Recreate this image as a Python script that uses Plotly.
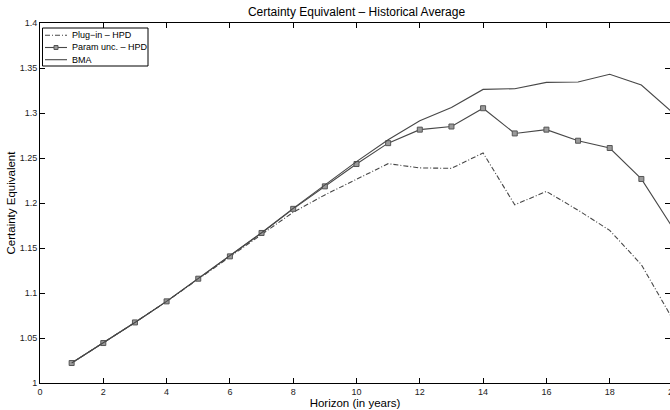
import plotly.graph_objects as go

# Horizon (years) and certainty-equivalent values for the three strategies
horizon = list(range(1, 21))
plug_in_hpd = [1.0222, 1.0444, 1.0673, 1.0907, 1.1155, 1.1400, 1.1645, 1.1897, 1.2090, 1.2259,
               1.2437, 1.2390, 1.2385, 1.2556, 1.1980, 1.2129, 1.1920, 1.1696, 1.1315, 1.0703]
param_unc_hpd = [1.0222, 1.0444, 1.0673, 1.0907, 1.1159, 1.1407, 1.1667, 1.1935, 1.2185, 1.2433,
                 1.2665, 1.2815, 1.2850, 1.3053, 1.2773, 1.2815, 1.2692, 1.2611, 1.2267, 1.1720]
bma = [1.0222, 1.0444, 1.0673, 1.0907, 1.1160, 1.1410, 1.1670, 1.1940, 1.2205, 1.2460,
       1.2703, 1.2914, 1.3060, 1.3262, 1.3270, 1.3340, 1.3344, 1.3430, 1.3310, 1.3000]

series_names = ["Plug\u2212in \u2013 HPD", "Param unc. \u2013 HPD", "BMA"]
x_ticks = list(range(0, 21, 2))
y_ticks = [1.0, 1.05, 1.1, 1.15, 1.2, 1.25, 1.3, 1.35, 1.4]
y_tick_text = ["1", "1.05", "1.1", "1.15", "1.2", "1.25", "1.3", "1.35", "1.4"]

# figure geometry (pixels)
W, H = 670, 410
ML, MR, MT, MB = 40, 0, 23, 27
PW, PH = W - ML - MR, H - MT - MB
X_MAX = 19.905  # visible part of the horizon axis

LINE = "#474747"
DASHDOT = "5px,2px,1px,2px"
MARKER_FILL, MARKER_EDGE = "#9a9a9a", "#555555"
FONT = "Liberation Sans, Arial, Helvetica, sans-serif"


def px_x(p):
    """pixel column -> paper x"""
    return (p - ML) / PW


def px_y(p):
    """pixel row -> paper y"""
    return (H - MB - p) / PH


styles = [
    dict(mode="lines", line=dict(color=LINE, width=1.1, dash=DASHDOT)),
    dict(mode="lines+markers", line=dict(color=LINE, width=1.1),
         marker=dict(symbol="square", size=5, color=MARKER_FILL, line=dict(color=MARKER_EDGE, width=1))),
    dict(mode="lines", line=dict(color=LINE, width=1.1)),
]

fig = go.Figure()
for name, values, style in zip(series_names, [plug_in_hpd, param_unc_hpd, bma], styles):
    fig.add_trace(go.Scatter(x=horizon, y=values, name=name, showlegend=False, **style))

axis_common = dict(
    showgrid=False, zeroline=False, showline=True, linecolor="black", linewidth=1,
    mirror="ticks", ticks="inside", ticklen=5, tickwidth=1, tickcolor="black",
    tickfont=dict(family=FONT, size=9, color="#222222"),
)

fig.update_xaxes(
    range=[0, X_MAX], tickmode="array", tickvals=x_ticks,
    title=dict(text="Horizon (in years)", font=dict(family=FONT, size=11.5, color="black"), standoff=1),
    **axis_common,
)
fig.update_yaxes(
    range=[1.0, 1.4], tickmode="array", tickvals=y_ticks, ticktext=y_tick_text,
    title=dict(text="Certainty Equivalent", font=dict(family=FONT, size=11.5, color="black"), standoff=1),
    **axis_common,
)

# last tick label sits just past the visible right edge
fig.add_annotation(
    x=20 / X_MAX, y=0, xref="paper", yref="paper", yshift=-9, xanchor="center", yanchor="middle",
    text="20", showarrow=False, font=dict(family=FONT, size=9, color="#222222"),
)

# compact boxed legend in the upper-left corner
box_l, box_r, box_t, box_b = 42.5, 148, 28, 66
row_y = [35.3, 47.5, 59.7]
key_x0, key_x1, text_x = 45, 67, 69.5
fig.add_shape(type="rect", xref="paper", yref="paper",
              x0=px_x(box_l), x1=px_x(box_r), y0=px_y(box_b), y1=px_y(box_t),
              line=dict(color="black", width=1), fillcolor="white", layer="above")
for i, (name, style) in enumerate(zip(series_names, styles)):
    ly = px_y(row_y[i])
    fig.add_shape(type="line", xref="paper", yref="paper",
                  x0=px_x(key_x0), x1=px_x(key_x1), y0=ly, y1=ly,
                  line=dict(color=LINE, width=1.1, dash=style["line"].get("dash", "solid")),
                  layer="above")
    if "marker" in style:
        cx = (key_x0 + key_x1) / 2
        fig.add_shape(type="rect", xref="paper", yref="paper",
                      x0=px_x(cx - 2), x1=px_x(cx + 2), y0=px_y(row_y[i] + 2), y1=px_y(row_y[i] - 2),
                      line=dict(color=MARKER_EDGE, width=1), fillcolor=MARKER_FILL, layer="above")
    fig.add_annotation(x=px_x(text_x), y=ly, xref="paper", yref="paper",
                       xanchor="left", yanchor="middle", text=name, showarrow=False,
                       font=dict(family=FONT, size=9, color="black"))

fig.update_layout(
    width=W, height=H,
    margin=dict(l=ML, r=MR, t=MT, b=MB),
    paper_bgcolor="white", plot_bgcolor="white",
    title=dict(text="Certainty Equivalent \u2013 Historical Average",
               x=(ML + 20 / X_MAX * PW / 2) / W, xanchor="center",
               y=1 - 11.5 / H, yanchor="middle", yref="container",
               font=dict(family=FONT, size=12, color="black")),
    showlegend=False,
)

fig.write_html("out.html")
